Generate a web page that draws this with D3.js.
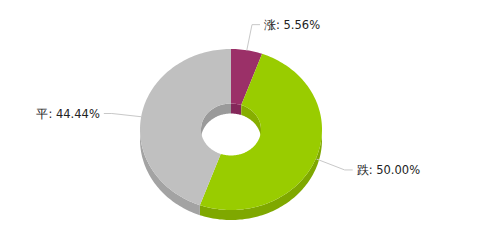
<!DOCTYPE html>
<html>
<head>
<meta charset="utf-8">
<script src="https://cdn.jsdelivr.net/npm/d3@7"></script>
<style>
html,body{margin:0;padding:0;background:#fff;}
svg{display:block;}
</style>
</head>
<body>
<div id="chart"></div>
<script>
// data
var categories=["涨","跌","平"];
var values=[1,9,8];

var W=481,H=248;
var cx=231,cy=129.5,rx=91,ry=80.5,rxIn=30,ryIn=26,depth=10;
var topColors=["#9b3068","#99cc00","#c0c0c0"],
	sideColors=["#7a2450","#7fa800","#a3a3a3"],
	wallColors=["#84285a","#86ae00","#9a9a9a"];
var color=d3.scaleOrdinal(categories,topColors),
	sideColor=d3.scaleOrdinal(categories,sideColors),
	wallColor=d3.scaleOrdinal(categories,wallColors);

var total=d3.sum(values);
var pie=d3.pie().sort(null).value(function(d){return d;}).startAngle(0).endAngle(2*Math.PI);
var arcs=pie(values);

var svg=d3.select("#chart").append("svg").attr("width",W).attr("height",H);
var line=d3.line();

function pt(a,erx,ery,dy){
	return [cx+erx*Math.sin(a),cy-ery*Math.cos(a)+(dy||0)];
}
function arcPts(a0,a1,erx,ery,dy){
	var n=Math.max(2,Math.ceil(Math.abs(a1-a0)*40));
	return d3.range(n+1).map(function(i){return pt(a0+(a1-a0)*i/n,erx,ery,dy);});
}
function band(s,e,erx,ery){ // wall between top edge and edge shifted by depth
	return line(arcPts(s,e,erx,ery,0).concat(arcPts(e,s,erx,ery,depth)))+"Z";
}
function clipRange(a0,a1,s,e){
	var lo=Math.max(a0,s),hi=Math.min(a1,e);
	return lo<hi?[lo,hi]:null;
}

// inner walls (far half of hole)
var gWall=svg.append("g");
arcs.forEach(function(d,i){
	[[0,Math.PI/2],[3*Math.PI/2,2*Math.PI]].forEach(function(r){
		var c=clipRange(d.startAngle,d.endAngle,r[0],r[1]);
		if(c) gWall.append("path").attr("d",band(c[0],c[1],rxIn,ryIn)).attr("fill",wallColor(categories[i]));
	});
});

// outer side walls (near half)
var gSide=svg.append("g");
arcs.forEach(function(d,i){
	var c=clipRange(d.startAngle,d.endAngle,Math.PI/2,3*Math.PI/2);
	if(c) gSide.append("path").attr("d",band(c[0],c[1],rx,ry)).attr("fill",sideColor(categories[i]));
});

// top faces
svg.append("g").selectAll("path").data(arcs).join("path")
	.attr("d",function(d){
		return line(arcPts(d.startAngle,d.endAngle,rx,ry,0).concat(arcPts(d.endAngle,d.startAngle,rxIn,ryIn,0)))+"Z";
	})
	.attr("fill",function(d,i){return color(categories[i]);});

// labels
var gLab=svg.append("g");
arcs.forEach(function(d,i){
	var m=(d.startAngle+d.endAngle)/2;
	var side=Math.sin(m)>=0?1:-1;
	var lift=depth*0.6*(0.5-0.5*Math.cos(m)); // lower labels sit a bit lower (depth)
	var p0=pt(m,rx,ry,lift*0.5),p1=pt(m,rx+30,ry+26,lift),p2=[p1[0]+side*8,p1[1]];
	gLab.append("path").attr("d",line([p0,p1,p2]))
		.attr("fill","none").attr("stroke","#c8c8c8").attr("stroke-width",1);
	gLab.append("text")
		.attr("x",p2[0]+side*4).attr("y",p2[1])
		.attr("dy","0.35em")
		.attr("text-anchor",side>0?"start":"end")
		.attr("font-family","DejaVu Sans, Verdana, sans-serif")
		.attr("font-size","11.5px").attr("fill","#222")
		.text(categories[i]+": "+(values[i]/total*100).toFixed(2)+"%");
});
</script>
</body>
</html>
